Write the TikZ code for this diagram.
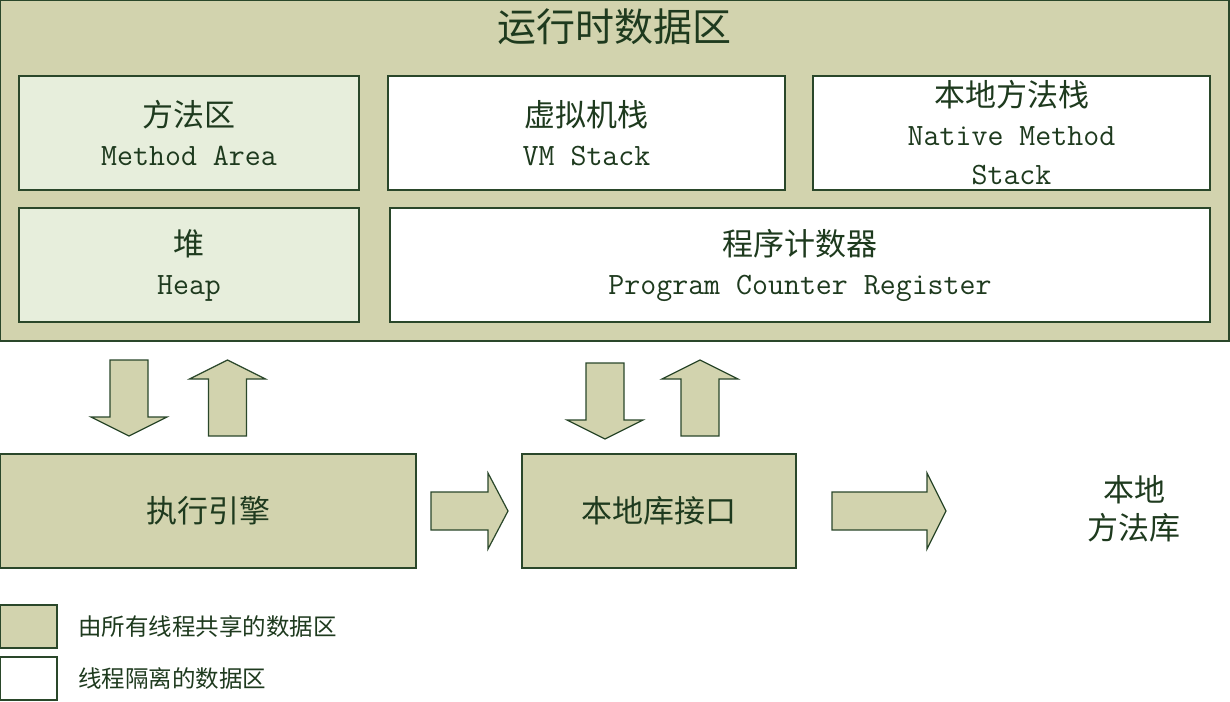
\documentclass[tikz,border=0pt]{standalone}
\usepackage{fontspec}
\setmainfont{Noto Sans CJK SC}
\usetikzlibrary{positioning}

\definecolor{sharedfill}{HTML}{D2D3AE}
\definecolor{lightfill}{HTML}{E7EEDC}
\definecolor{edgegreen}{HTML}{2A472A}
\definecolor{textgreen}{HTML}{1E3A1E}

\begin{document}
\begin{tikzpicture}[
    x=1pt, y=-1pt,
    box/.style={draw=edgegreen, line width=1.2pt, inner sep=0pt, outer sep=0pt, align=center,
        text=textgreen, font=\fontsize{31}{39}\selectfont},
    shared/.style={box, fill=sharedfill},
    sharedlight/.style={box, fill=lightfill},
    private/.style={box, fill=white},
    keytext/.style={inner sep=0pt, text=textgreen, font=\fontsize{23.5}{28}\selectfont},
    blockarrow/.style={draw=edgegreen, line width=1.2pt, fill=sharedfill},
    vert arrow/.pic={\draw[blockarrow] (-19,0) -- (-19,57) -- (-38,57) -- (0,76)
        -- (38,57) -- (19,57) -- (19,0) -- cycle;}
]
    \useasboundingbox (0,0) rectangle (1230,701);

    % runtime data area
    \node[shared, minimum width=1229pt, minimum height=341pt] (runtime) at (614.5,170.5) {};
    \node[text=textgreen, font=\fontsize{39}{45}\selectfont] (title) at (614,27) {运行时数据区};

    \node[sharedlight, minimum width=340pt, minimum height=114pt] (method) at (189,133)
        {方法区\\\ttfamily Method Area};
    \node[private, minimum width=397pt, minimum height=114pt, right=29pt of method] (vmstack)
        {虚拟机栈\\\ttfamily VM Stack};
    \node[private, minimum width=397pt, minimum height=114pt, right=28pt of vmstack] (native)
        {本地方法栈\\\ttfamily Native Method\\\ttfamily Stack};
    \node[sharedlight, minimum width=340pt, minimum height=114pt, below=18pt of method] (heap)
        {堆\\\ttfamily Heap};
    \node[private, minimum width=820pt, minimum height=114pt, right=31pt of heap] (pcreg)
        {程序计数器\\\ttfamily Program Counter Register};

    % engine and native interface
    \node[shared, minimum width=416pt, minimum height=114pt] (engine) at (208,511) {执行引擎};
    \node[shared, minimum width=274pt, minimum height=114pt, right=106pt of engine] (libif) {本地库接口};
    \node[align=center, text=textgreen, font=\fontsize{31}{38}\selectfont] (nativelib) at (1134,509)
        {本地\\方法库};

    \pic at (129,360) {vert arrow};
    \pic[rotate=180] at (227.5,436) {vert arrow};
    \pic at (605,363) {vert arrow};
    \pic[rotate=180] at (700,436) {vert arrow};

    \draw[blockarrow] (431,492) -- (488,492) -- (488,473) -- (508,511)
        -- (488,549) -- (488,530) -- (431,530) -- cycle;
    \draw[blockarrow] (832,492) -- (927,492) -- (927,473) -- (946,511)
        -- (927,549) -- (927,530) -- (832,530) -- cycle;

    % legend
    \node[shared, minimum width=57pt, minimum height=43pt] (sharedkey) at (28.5,626.5) {};
    \node[private, minimum width=57pt, minimum height=43pt, below=9pt of sharedkey] (privatekey) {};
    \node[keytext, right=21pt of sharedkey] (sharedlabel) {由所有线程共享的数据区};
    \node[keytext, right=21pt of privatekey] (privatelabel) {线程隔离的数据区};
\end{tikzpicture}
\end{document}
